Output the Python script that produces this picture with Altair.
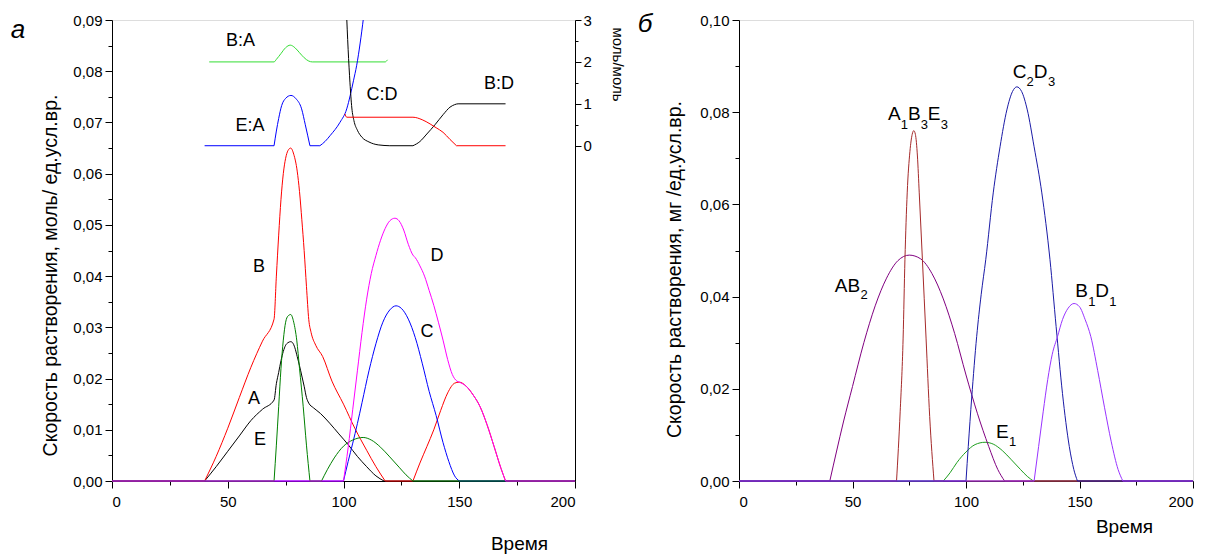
import altair as alt
import pandas as pd

FONT = "Liberation Sans"

# ---------------- Panel а: main curves (моль/ед.усл.вр.) ----------------
A_x = [0, 40, 45, 50, 55, 60, 65, 70, 71, 72, 73, 74, 75, 76, 77.2, 78, 79, 80, 81, 82, 83, 84, 85, 87, 90, 94, 98, 102, 106, 110, 114, 117.5, 200]
A_y = [0, 0, 0.0028, 0.0058, 0.0088, 0.0118, 0.0140, 0.0158, 0.0190, 0.0212, 0.0235, 0.0253, 0.0265, 0.0270, 0.0272, 0.0270, 0.0260, 0.0243, 0.0225, 0.0205, 0.0185, 0.0163, 0.0152, 0.0143, 0.0132, 0.0113, 0.0092, 0.0071, 0.0048, 0.0028, 0.0010, 0, 0]

B_x = [0, 40, 45, 50, 55, 60, 65, 70, 71, 72, 73, 74, 75, 76, 77.2, 78.5, 80, 81, 82, 83, 84, 85, 86, 88, 91, 95, 100, 105, 110, 114, 118, 130, 133, 136, 139, 142, 145, 148, 150, 153, 156, 159, 162, 165, 168, 170, 200]
B_y = [0, 0, 0.0048, 0.0103, 0.0163, 0.0222, 0.0273, 0.0316, 0.0400, 0.0480, 0.0550, 0.0600, 0.0630, 0.0645, 0.0650, 0.0638, 0.0605, 0.0565, 0.0510, 0.0450, 0.0380, 0.0315, 0.0290, 0.0265, 0.0243, 0.0195, 0.0150, 0.0102, 0.0060, 0.0028, 0, 0, 0.0035, 0.0067, 0.0100, 0.0138, 0.0172, 0.0191, 0.0193, 0.0185, 0.0168, 0.0145, 0.0110, 0.0068, 0.0025, 0, 0]

C_x = [0, 100, 102, 104, 106, 108, 111, 114, 117, 120, 122.7, 125, 128, 131, 134, 137, 140, 143, 145.5, 148, 150, 200]
C_y = [0, 0, 0.0038, 0.0074, 0.0112, 0.0153, 0.0215, 0.0268, 0.0310, 0.0334, 0.0342, 0.0337, 0.0316, 0.0280, 0.0230, 0.0175, 0.0128, 0.0075, 0.0038, 0.0010, 0, 0]

D_x = [0, 100, 102, 104, 106, 108, 110, 112, 114, 116, 118, 120, 122.2, 124, 126, 128, 130, 131, 133, 135, 137, 139, 141, 143, 145, 147, 149, 150, 153, 156, 159, 162, 165, 168, 170, 200]
D_y = [0, 0, 0.0065, 0.0140, 0.0215, 0.0290, 0.0355, 0.0405, 0.0440, 0.0470, 0.0493, 0.0508, 0.0513, 0.0508, 0.0490, 0.0462, 0.0441, 0.0436, 0.0420, 0.0400, 0.0372, 0.0343, 0.0310, 0.0275, 0.0237, 0.0208, 0.0195, 0.0193, 0.0185, 0.0168, 0.0145, 0.0110, 0.0068, 0.0025, 0, 0]

E_x = [0, 70, 71, 72, 73, 74, 75, 76, 77.2, 78.5, 79.8, 81, 82.6, 84, 85.5, 90.5, 93, 96, 100, 104, 108.5, 112, 116, 120, 124, 127, 130, 200]
E_y = [0, 0, 0.0070, 0.0145, 0.0220, 0.0275, 0.0310, 0.0322, 0.0325, 0.0310, 0.0275, 0.0220, 0.0145, 0.0070, 0, 0, 0.0022, 0.0045, 0.0068, 0.0080, 0.0085, 0.0080, 0.0066, 0.0047, 0.0027, 0.0012, 0, 0]

# ---------------- Panel а: inset ratios (моль/моль, right axis) ----------------
BA_x = [42, 70, 71, 73, 75, 77, 79, 81, 83, 85, 86.5, 118, 119]
BA_y = [2, 2, 2.06, 2.2, 2.34, 2.4, 2.34, 2.22, 2.1, 2.02, 2, 2, 2.05]

EA_x = [40, 70, 71, 72, 73.3, 75, 77.3, 79.5, 81.9, 83.5, 85.5, 89.8, 92, 94.2, 98.5, 101.4, 102.9, 104.3, 105.7, 107.2, 108.6, 110]
EA_y = [0, 0, 0.35, 0.65, 0.96, 1.13, 1.2, 1.12, 0.88, 0.5, 0, 0, 0.1, 0.24, 0.56, 0.88, 1.2, 1.55, 1.92, 2.45, 3.04, 3.7]

CDk_x = [101.2, 102, 102.8, 103.6, 104.5, 106, 108, 111, 115, 120, 130, 133, 136, 139.5, 143, 146, 148, 149.5, 170]
CDk_y = [3.3, 2.3, 1.5, 0.9, 0.6, 0.37, 0.2, 0.09, 0.02, 0, 0, 0.1, 0.28, 0.5, 0.74, 0.92, 0.98, 1.0, 1.0]

CDr_x = [100.6, 101.4, 130, 134, 137.4, 140, 143, 146, 148.8, 170]
CDr_y = [0.76, 0.68, 0.68, 0.62, 0.52, 0.43, 0.32, 0.15, 0, 0]

# ---------------- Panel б (мг/ед.усл.вр.) ----------------
AB2_x = [0, 40, 43, 46, 50, 55, 60, 65, 70, 75, 80, 85, 90, 95, 100, 105, 110, 114, 117, 200]
AB2_y = [0, 0, 0.0065, 0.0128, 0.0205, 0.0300, 0.0380, 0.0440, 0.0478, 0.0490, 0.0482, 0.0450, 0.0395, 0.0320, 0.0230, 0.0147, 0.0075, 0.0025, 0, 0]

A1B3E3_x = [0, 69.4, 71, 72.3, 73.1, 74.1, 75.3, 76.3, 77, 77.7, 78.6, 79.4, 80.8, 82.4, 84, 85.9, 200]
A1B3E3_y = [0, 0, 0.015, 0.031, 0.048, 0.0625, 0.0715, 0.0752, 0.0760, 0.0752, 0.0705, 0.0625, 0.048, 0.031, 0.014, 0, 0]

C2D3_x = [0, 100, 101, 102.5, 104.7, 106.7, 108.7, 112, 115, 118, 120.5, 122.4, 124.5, 127, 130, 133.4, 137, 139.7, 142.5, 145.5, 147.5, 149.1, 200]
C2D3_y = [0, 0, 0.0075, 0.018, 0.0313, 0.0405, 0.048, 0.0625, 0.0725, 0.0805, 0.0845, 0.0855, 0.0845, 0.0805, 0.0725, 0.0625, 0.048, 0.0335, 0.019, 0.0075, 0.0025, 0, 0]

B1D1_x = [0, 130, 132, 134, 136, 138, 140.3, 142.5, 145, 147.6, 150, 152.5, 155, 158, 161, 164, 167, 169.1, 200]
B1D1_y = [0, 0, 0.0075, 0.015, 0.022, 0.0275, 0.0313, 0.035, 0.0375, 0.0385, 0.0378, 0.035, 0.0313, 0.024, 0.016, 0.0085, 0.0025, 0, 0]

E1_x = [0, 90, 93, 96, 100, 104, 108.4, 112, 116, 120, 124, 127, 129.7, 200]
E1_y = [0, 0, 0.0018, 0.0040, 0.0063, 0.0079, 0.0084, 0.0080, 0.0066, 0.0046, 0.0025, 0.0010, 0, 0]

# ---------------- labels ----------------
LA_text = ["B", "A", "E", "D", "C"]
LA_x = [63.5, 61.3, 63.9, 140.4, 136.1]
LA_y = [0.0418, 0.0160, 0.0080, 0.0439, 0.0291]

LI_text = ["B:A", "E:A", "C:D", "B:D"]
LI_x = [55.5, 59.6, 116.6, 167.2]
LI_y = [2.51, 0.47, 1.21, 1.47]

LB_text = ["AB", "2", "A", "1", "B", "3", "E", "3", "C", "2", "D", "3", "B", "1", "D", "1", "E", "1"]
LB_x = [42.2, 53.5, 65.6, 71.3, 74.4, 80.1, 83.2, 88.9, 120.6, 126.7, 129.9, 136.1, 148.1, 153.8, 156.9, 163.1, 113.2, 118.9]
LB_y = [0.0411, 0.0395, 0.0782, 0.0763, 0.0782, 0.0763, 0.0782, 0.0763, 0.0875, 0.0857, 0.0875, 0.0857, 0.0399, 0.0379, 0.0399, 0.0379, 0.0093, 0.0075]
LB_size = [19, 13, 19, 13, 19, 13, 19, 13, 19, 13, 19, 13, 19, 13, 19, 13, 19, 13]


def series_frame(items):
    """One row per point; each curve is split into flat zero runs and bumps so
    that every onset keeps the sharp corner of the original plot."""
    rows = []
    for name, color, xs, ys in items:
        assert len(xs) == len(ys), name
        seg = 0
        prev_flat = None
        for i in range(len(xs) - 1):
            flat = ys[i] == 0 and ys[i + 1] == 0
            if prev_flat is None or flat != prev_flat:
                seg += 1
                rows.append({"s": f"{name}-{seg}", "c": color, "x": xs[i], "y": ys[i]})
            rows.append({"s": f"{name}-{seg}", "c": color, "x": xs[i + 1], "y": ys[i + 1]})
            prev_flat = flat
    return pd.DataFrame(rows)


df_main = series_frame([
    ("A", "#000000", A_x, A_y),
    ("B", "#FF0000", B_x, B_y),
    ("C", "#0000FF", C_x, C_y),
    ("E", "#008000", E_x, E_y),
    ("D", "#FF00FF", D_x, D_y),
])
df_inset = series_frame([
    ("B:A", "#33DD33", BA_x, BA_y),
    ("E:A", "#0000FF", EA_x, EA_y),
    ("C:D k", "#000000", CDk_x, CDk_y),
    ("C:D r", "#FF0000", CDr_x, CDr_y),
])
df_b = series_frame([
    ("E1", "#1E9E1E", E1_x, E1_y),
    ("AB2", "#800080", AB2_x, AB2_y),
    ("A1B3E3", "#A52A2A", A1B3E3_x, A1B3E3_y),
    ("C2D3", "#1A1AA6", C2D3_x, C2D3_y),
    ("B1D1", "#9933FF", B1D1_x, B1D1_y),
])
df_la = pd.DataFrame({"t": LA_text, "x": LA_x, "y": LA_y})
df_li = pd.DataFrame({"t": LI_text, "x": LI_x, "y": LI_y})
df_lb = pd.DataFrame({"t": LB_text, "x": LB_x, "y": LB_y, "fs": LB_size})

AX = dict(grid=False, domainColor="black", tickColor="black", labelColor="black",
          titleColor="black", labelFont=FONT, titleFont=FONT, labelFontSize=15,
          titleFontWeight="normal", domainWidth=1, tickWidth=1)


def x_axis(tx, ty):
    return alt.Axis(
        values=list(range(0, 201, 25)),
        labelExpr="datum.value % 50 == 0 ? datum.label : ''",
        tickSize={"condition": {"test": "datum.value % 50 == 0", "value": 7}, "value": 4},
        labelPadding=6, title="Время", titleX=tx, titleY=ty, titleAlign="center",
        titleBaseline="alphabetic", titleFontSize=19, **AX)


XS = alt.Scale(domain=[0, 200], nice=False)

ax_x_a = x_axis(407, 68)
ax_y_a = alt.Axis(
    values=[round(i * 0.005, 3) for i in range(19)],
    labelExpr="round(datum.value*200) % 2 == 0 ? replace(format(datum.value, '.2f'), '.', ',') : ''",
    tickSize={"condition": {"test": "round(datum.value*200) % 2 == 0", "value": 7}, "value": 4},
    labelPadding=3, title="Скорость растворения, моль/ ед.усл.вр.", titleX=-62, titleY=255,
    titleAngle=-90, titleAlign="center", titleBaseline="middle", titleFontSize=19.5, **AX)
YS_a = alt.Scale(domain=[0, 0.09], nice=False)

ax_y_in = alt.Axis(
    orient="right",
    values=[i * 0.5 for i in range(7)],
    labelExpr="datum.value % 1 == 0 ? datum.label : ''",
    tickSize={"condition": {"test": "datum.value % 1 == 0", "value": 6}, "value": 3},
    labelPadding=2, title="моль/моль", titleX=42, titleY=44, titleAngle=90,
    titleAlign="center", titleBaseline="middle", titleFontSize=15, **AX)
YS_in = alt.Scale(domain=[-8, 3], nice=False)

main_lines = alt.Chart(df_main).mark_line(strokeWidth=1, interpolate="monotone").encode(
    x=alt.X("x:Q", scale=XS, axis=ax_x_a),
    y=alt.Y("y:Q", scale=YS_a, axis=ax_y_a),
    color=alt.Color("c:N", scale=None),
    detail="s:N",
)
main_text = alt.Chart(df_la).mark_text(font=FONT, fontSize=18, align="center", baseline="middle", color="black").encode(
    x=alt.X("x:Q", scale=XS, axis=ax_x_a),
    y=alt.Y("y:Q", scale=YS_a, axis=ax_y_a),
    text="t:N",
)
panel_tag_a = alt.Chart(pd.DataFrame({"t": ["а"]})).mark_text(
    font=FONT, fontSize=26, fontStyle="italic", align="center", baseline="middle", color="black"
).encode(x=alt.value(-94), y=alt.value(10), text="t:N")

inset_lines = alt.Chart(df_inset).mark_line(strokeWidth=1, interpolate="monotone", clip=True).encode(
    x=alt.X("x:Q", scale=XS, axis=ax_x_a),
    y=alt.Y("y:Q", scale=YS_in, axis=ax_y_in),
    color=alt.Color("c:N", scale=None),
    detail="s:N",
)
inset_text = alt.Chart(df_li).mark_text(font=FONT, fontSize=18, align="center", baseline="middle", color="black").encode(
    x=alt.X("x:Q", scale=XS, axis=ax_x_a),
    y=alt.Y("y:Q", scale=YS_in, axis=ax_y_in),
    text="t:N",
)

left = alt.layer(
    alt.layer(main_lines, main_text, panel_tag_a),
    alt.layer(inset_lines, inset_text),
).resolve_scale(y="independent").properties(width=463, height=461)

# ---- panel б ----
ax_x_b = x_axis(385, 51)
ax_y_b = alt.Axis(
    values=[round(i * 0.01, 3) for i in range(11)],
    labelExpr="round(datum.value*100) % 2 == 0 ? replace(format(datum.value, '.2f'), '.', ',') : ''",
    tickSize={"condition": {"test": "round(datum.value*100) % 2 == 0", "value": 7}, "value": 4},
    labelPadding=3, title="Скорость растворения, мг /ед.усл.вр.", titleX=-65, titleY=249,
    titleAngle=-90, titleAlign="center", titleBaseline="middle", titleFontSize=19.5, **AX)
YS_b = alt.Scale(domain=[0, 0.10], nice=False)

b_lines = alt.Chart(df_b).mark_line(strokeWidth=1, interpolate="monotone").encode(
    x=alt.X("x:Q", scale=XS, axis=ax_x_b),
    y=alt.Y("y:Q", scale=YS_b, axis=ax_y_b),
    color=alt.Color("c:N", scale=None),
    detail="s:N",
)
b_text = alt.Chart(df_lb).mark_text(font=FONT, align="left", baseline="alphabetic", color="black").encode(
    x=alt.X("x:Q", scale=XS, axis=ax_x_b),
    y=alt.Y("y:Q", scale=YS_b, axis=ax_y_b),
    text="t:N",
    size=alt.Size("fs:Q", scale=None),
)
panel_tag_b = alt.Chart(pd.DataFrame({"t": ["б"]})).mark_text(
    font=FONT, fontSize=26, fontStyle="italic", align="center", baseline="middle", color="black"
).encode(x=alt.value(-94), y=alt.value(4), text="t:N")

right = alt.layer(b_lines, b_text, panel_tag_b).properties(width=454, height=461)

chart = alt.hconcat(left, right, spacing=164, bounds="flush").properties(
    autosize="none",
    padding={"left": 112, "top": 20, "right": 1205 - 112, "bottom": 555 - 20},
).configure_view(stroke=None).configure(background="white")

chart.save("out.html", embed_options={"renderer": "svg", "actions": False})
